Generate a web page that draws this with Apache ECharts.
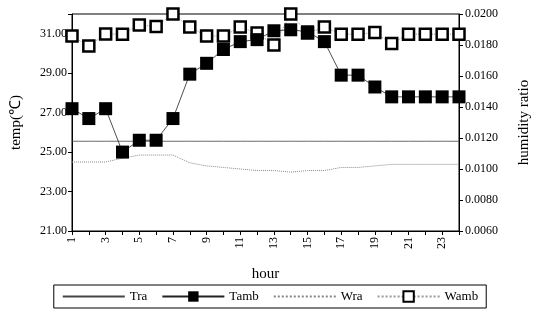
<!DOCTYPE html>
<html>
<head>
<meta charset="utf-8">
<script src="https://cdn.jsdelivr.net/npm/echarts@6/dist/echarts.min.js"></script>
<style>
  html, body { margin: 0; padding: 0; background: #fff; }
  #chart { width: 540px; height: 320px; }
</style>
</head>
<body>
<div id="chart"></div>
<script>
// hours and measured series
var hours = ['1','2','3','4','5','6','7','8','9','10','11','12','13','14','15','16','17','18','19','20','21','22','23','24'];
var tra  = [25.55,25.55,25.55,25.55,25.55,25.55,25.55,25.55,25.55,25.55,25.55,25.55,25.55,25.55,25.55,25.55,25.55,25.55,25.55,25.55,25.55,25.55,25.55,25.55];
var tamb = [27.2,26.7,27.2,25.0,25.6,25.6,26.7,28.95,29.5,30.2,30.6,30.7,31.15,31.2,31.1,30.6,28.9,28.9,28.3,27.8,27.8,27.8,27.8,27.8];
var wra  = [0.01045,0.01045,0.01045,0.0107,0.0109,0.0109,0.0109,0.0104,0.0102,0.0101,0.0100,0.0099,0.0099,0.0098,0.0099,0.0099,0.0101,0.0101,0.0102,0.0103,0.0103,0.0103,0.0103,0.0103];
var wamb = [0.01858,0.01794,0.01871,0.0187,0.01929,0.0192,0.0200,0.01916,0.01858,0.01858,0.01916,0.01877,0.0180,0.0200,0.01877,0.01916,0.0187,0.0187,0.0188,0.0181,0.0187,0.0187,0.0187,0.0187];

var serif = 'Liberation Serif';

var chart = echarts.init(document.getElementById('chart'));

var option = {
    animation: false,
    textStyle: { fontFamily: serif, color: '#000' },
    grid: {
        left: 72, right: 77, top: 14, bottom: 89,
        show: true, borderColor: '#000', borderWidth: 1
    },
    legend: {
        bottom: 12,
        left: 'center',
        itemWidth: 62,
        itemHeight: 13,
        itemGap: 14,
        padding: [5, 8],
        borderColor: '#000',
        borderWidth: 1,
        textStyle: { fontFamily: serif, fontSize: 13, color: '#000' },
        data: [
            { name: 'Tra', itemStyle: { opacity: 0 } },
            'Tamb',
            { name: 'Wra', itemStyle: { opacity: 0 } },
            'Wamb'
        ]
    },
    xAxis: {
        type: 'category',
        data: hours,
        boundaryGap: false,
        name: 'hour',
        nameLocation: 'middle',
        nameGap: 36,
        nameTextStyle: { fontFamily: serif, fontSize: 15, color: '#000' },
        axisLine: { lineStyle: { color: '#000' } },
        axisTick: { interval: 0, length: 4, lineStyle: { color: '#000' } },
        axisLabel: { interval: 1, rotate: 90, fontFamily: serif, fontSize: 12, color: '#000', margin: 6 },
        splitLine: { show: false }
    },
    yAxis: [{
        type: 'value',
        min: 21, max: 32, interval: 2,
        name: 'temp(\u2103)',
        nameLocation: 'middle',
        nameGap: 48,
        nameTextStyle: { fontFamily: serif, fontSize: 15, color: '#000' },
        axisLine: { show: true, lineStyle: { color: '#000' } },
        axisTick: { show: true, length: 4, lineStyle: { color: '#000' } },
        axisLabel: {
            fontFamily: serif, fontSize: 12, color: '#000', margin: 5,
            formatter: function (v) { return v === 32 ? '' : v.toFixed(2); }
        },
        splitLine: { show: false }
    }, {
        type: 'value',
        min: 0.006, max: 0.020, interval: 0.002,
        name: 'humidity ratio',
        nameLocation: 'middle',
        nameGap: 58,
        nameTextStyle: { fontFamily: serif, fontSize: 15, color: '#000' },
        axisLine: { show: true, lineStyle: { color: '#000' } },
        axisTick: { show: true, length: 4, lineStyle: { color: '#000' } },
        axisLabel: {
            fontFamily: serif, fontSize: 12, color: '#000', margin: 6,
            formatter: function (v) { return v.toFixed(4); }
        },
        splitLine: { show: false }
    }],
    series: [{
        name: 'Tra',
        type: 'line',
        yAxisIndex: 0,
        data: tra,
        symbol: 'none',
        itemStyle: { color: '#444' },
        lineStyle: { color: '#444', width: 0.8 }
    }, {
        name: 'Tamb',
        type: 'line',
        yAxisIndex: 0,
        data: tamb,
        symbol: 'rect',
        symbolSize: 13,
        showAllSymbol: true,
        itemStyle: { color: '#000' },
        lineStyle: { color: '#222', width: 0.8 },
        z: 4
    }, {
        name: 'Wra',
        type: 'line',
        yAxisIndex: 1,
        data: wra,
        symbol: 'none',
        itemStyle: { color: '#888' },
        lineStyle: { color: '#888', width: 1, type: 'dotted' }
    }, {
        name: 'Wamb',
        type: 'line',
        yAxisIndex: 1,
        data: wamb,
        symbol: 'rect',
        symbolSize: 11,
        showAllSymbol: true,
        itemStyle: { color: '#fff', borderColor: '#000', borderWidth: 2.5 },
        lineStyle: { color: '#999', width: 1, type: 'dotted' },
        z: 3
    }]
};

chart.setOption(option);
window.addEventListener('resize', chart.resize);
</script>
</body>
</html>
